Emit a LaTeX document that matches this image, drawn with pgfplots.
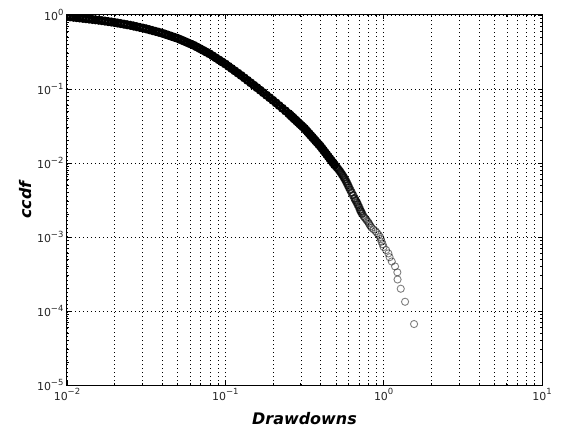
\documentclass[border=0pt]{standalone}
\usepackage{fontspec}
\setmainfont{DejaVu Sans}
\usepackage{pgfplots}
\pgfplotsset{compat=1.18}
\newcommand\tl[1]{10\raisebox{0.5em}{\fontsize{8.5}{9}\selectfont #1}}
\begin{document}
\begin{tikzpicture}
\useasboundingbox (-67bp,-45bp) rectangle (500bp,385bp);
\begin{axis}[
  scale only axis, width=475bp, height=370bp,
  xmode=log, ymode=log,
  xmin=0.01, xmax=10, ymin=1e-5, ymax=1,
  clip marker paths=true,
  xtick={0.01,0.1,1,10},
  xticklabels={\tl{−2},\tl{−1},\tl{0},\tl{1}},
  ytick={1e-5,1e-4,1e-3,1e-2,1e-1,1},
  yticklabels={\tl{−5},\tl{−4},\tl{−3},\tl{−2},\tl{−1},\tl{0}},
  ticklabel style={font=\fontsize{11}{12}\selectfont, text=black!85},
  tick align=inside,
  major tick length=4bp, minor tick length=2bp,
  tick style={black, line width=0.8bp},
  axis line style={black, line width=1bp},
  xmajorgrids, xminorgrids, ymajorgrids,
  grid style={black, line width=0.7bp, dash pattern=on 1bp off 3bp},
  xlabel={\bfseries\itshape Drawdowns},
  ylabel={\bfseries\itshape ccdf},
  label style={font=\fontsize{16}{18}\selectfont},
  xlabel style={at={(axis description cs:0.5,-0.108)}, anchor=base},
  ylabel style={at={(axis description cs:-0.0745,0.5)}, anchor=base},
]
% dense part of the ccdf (thousands of overlapping circles)
\addplot[only marks, mark=o, mark size=3.2bp, mark options={line width=2.6bp, draw=black}] coordinates {
(0.0087096,0.9845)(0.0091201,0.9745)(0.0095499,0.9647)(0.01,0.9550)(0.010471,0.9441)
(0.010965,0.9333)(0.011482,0.9226)(0.012023,0.9120)(0.012589,0.9016)(0.013183,0.8913)
(0.013804,0.8810)(0.014454,0.8710)(0.015136,0.8610)(0.015849,0.8511)(0.016596,0.8391)
(0.017378,0.8272)(0.018197,0.8154)(0.019055,0.8039)(0.019953,0.7925)(0.020893,0.7787)
(0.021878,0.7652)(0.022909,0.7520)(0.023988,0.7389)(0.025119,0.7261)(0.026303,0.7102)
(0.027542,0.6947)(0.028840,0.6795)(0.030200,0.6647)(0.031623,0.6502)(0.033113,0.6330)
(0.034674,0.6163)(0.036308,0.6001)(0.038019,0.5843)(0.039811,0.5689)(0.041687,0.5503)
(0.043652,0.5324)(0.045709,0.5150)(0.047863,0.4982)(0.050119,0.4819)(0.052481,0.4619)
(0.054954,0.4428)(0.057544,0.4244)(0.060256,0.4068)
(0.063096,0.3899)(0.066069,0.3698)(0.069183,0.3508)(0.072444,0.3327)(0.075858,0.3155)
(0.079433,0.2992)(0.083176,0.2808)(0.087096,0.2635)(0.091201,0.2473)(0.095499,0.2321)
(0.1,0.2178)(0.10471,0.2028)(0.10965,0.1888)(0.11482,0.1758)(0.12023,0.1637)
(0.12589,0.1524)(0.13183,0.1413)(0.13804,0.1309)(0.14454,0.1213)(0.15136,0.1125)
(0.15849,0.1042)(0.16596,0.09639)(0.17378,0.08913)(0.18197,0.08241)(0.19055,0.07621)
(0.19953,0.07047)(0.20893,0.06486)(0.21878,0.05970)(0.22909,0.05495)(0.23988,0.05058)
(0.25119,0.04656)
(0.25704,0.04446)(0.26303,0.04246)(0.26915,0.04055)(0.27542,0.03873)(0.28184,0.03698)
(0.28840,0.03532)(0.29512,0.03373)(0.30200,0.03221)(0.30903,0.03076)(0.31623,0.02938)
(0.32359,0.02780)(0.33113,0.02630)(0.33884,0.02489)(0.34674,0.02355)(0.35481,0.02228)
(0.36308,0.02109)(0.37154,0.01995)(0.38019,0.01888)(0.38905,0.01786)(0.39811,0.01690)
(0.40738,0.01585)(0.41687,0.01486)(0.42658,0.01393)(0.43652,0.01306)(0.44668,0.01225)
(0.45709,0.01148)(0.46774,0.01077)(0.47863,0.01009)(0.48978,0.009462)
};
% thinner part of the body (k = 133 ... 31 of N = 15000)
\addplot[only marks, mark=o, mark size=3.5bp, mark options={line width=1.6bp, draw=black, draw opacity=0.7}] coordinates {
(0.50119,0.008871)(0.5077,0.008667)(0.5151,0.008333)(0.5228,0.008)(0.5304,0.007667)(0.5381,0.007333)
(0.5460,0.007)(0.5540,0.006667)(0.5621,0.006333)(0.5704,0.006)(0.5788,0.005667)
(0.5872,0.005333)(0.5958,0.005)(0.6045,0.004667)(0.6152,0.004333)(0.6269,0.004)
(0.6407,0.003667)(0.6549,0.003333)(0.6645,0.003133)(0.6772,0.002933)(0.6871,0.002733)
(0.6992,0.002533)(0.7094,0.002333)(0.7198,0.0022)(0.7303,0.002067)
};
% tail (k = 29 ... 1)
\addplot[only marks, mark=o, mark size=3.6bp, mark options={line width=0.9bp, draw=black, draw opacity=0.5}] coordinates {
(0.7444,0.001933)
(0.7520,0.001867)(0.7630,0.0018)(0.7741,0.001733)(0.7832,0.001667)(0.7969,0.0016)
(0.8063,0.001533)(0.8145,0.001467)(0.8264,0.0014)(0.8387,0.001333)(0.8634,0.001267)
(0.8888,0.0012)(0.9085,0.001133)(0.9285,0.001067)(0.9491,0.001)(0.9601,0.0009333)
(0.9698,0.0008667)(0.9840,0.0008)(0.9986,0.0007333)(1.036,0.0006667)(1.071,0.0006)
(1.090,0.0005333)(1.125,0.0004667)(1.180,0.0004)(1.220,0.0003333)(1.224,0.0002667)
(1.282,0.0002)(1.365,0.0001333)(1.556,0.00006667)
};
\end{axis}
\end{tikzpicture}
\end{document}
